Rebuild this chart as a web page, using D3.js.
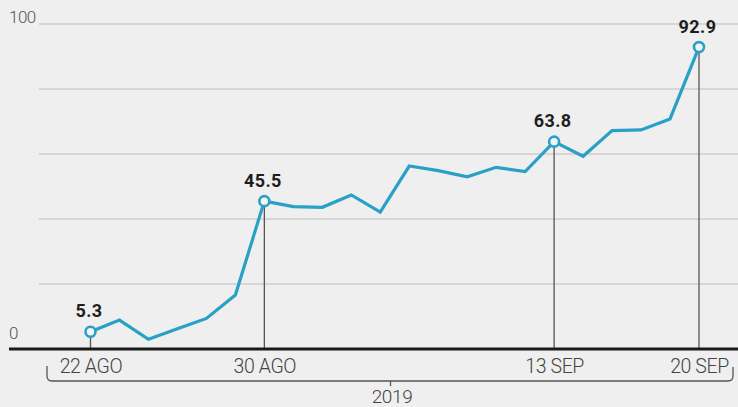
<!DOCTYPE html>
<html>
<head>
<meta charset="utf-8">
<script src="https://cdn.jsdelivr.net/npm/d3@7"></script>
<style>
  body { margin: 0; background: #efefef; }
  svg { display: block; }
</style>
</head>
<body>
<div class="graphContainer"></div>
<script>
// data
var dates = ["22 AGO", "23 AGO", "26 AGO", "27 AGO", "28 AGO", "29 AGO", "30 AGO",
  "2 SEP", "3 SEP", "4 SEP", "5 SEP", "6 SEP", "9 SEP", "10 SEP", "11 SEP", "12 SEP", "13 SEP",
  "16 SEP", "17 SEP", "18 SEP", "19 SEP", "20 SEP"];
var values = [5.3, 8.9, 3.0, 6.2, 9.4, 16.6, 45.5, 43.8, 43.6, 47.4, 42.1, 56.3, 54.9, 53.0,
  55.9, 54.6, 63.8, 59.3, 67.2, 67.4, 70.8, 92.9];
var labeledDates = ["22 AGO", "30 AGO", "13 SEP", "20 SEP"];
var gridValues = [20, 40, 60, 80, 100];
var yLabels = [0, 100];
var yearLabel = "2019";

var width = 738;
var height = 407;

var svg = d3
  .select(".graphContainer")
  .append("svg")
  .attr("width", width)
  .attr("height", height);

var xScale = d3.scalePoint().domain(dates).range([90.5, 699]);
var yScale = d3.scaleLinear().domain([0, 100]).range([349, 24]);

// grid
svg.selectAll(".grid")
  .data(gridValues)
  .enter()
  .append("line")
  .attr("class", "grid")
  .attr("x1", 39)
  .attr("x2", width)
  .attr("y1", (d) => yScale(d))
  .attr("y2", (d) => yScale(d))
  .style("stroke", "#bdbdbd")
  .style("stroke-width", 1.2);

// y labels
svg.selectAll(".ylab")
  .data(yLabels)
  .enter()
  .append("text")
  .attr("class", "ylab")
  .attr("x", 9)
  .attr("y", (d) => (d == 0 ? yScale(d) - 10 : yScale(d) - 1.5))
  .text((d) => d)
  .style("font-family", "Roboto")
  .style("font-weight", 300)
  .style("font-size", "17px")
  .style("letter-spacing", "-0.5px")
  .style("fill", "#555");

// drop lines for labelled points
var labeled = dates
  .map((d, i) => ({ date: d, value: values[i] }))
  .filter((d) => labeledDates.indexOf(d.date) >= 0);

svg.selectAll(".drop")
  .data(labeled)
  .enter()
  .append("line")
  .attr("class", "drop")
  .attr("x1", (d) => xScale(d.date))
  .attr("x2", (d) => xScale(d.date))
  .attr("y1", (d) => yScale(d.value))
  .attr("y2", yScale(0))
  .style("stroke", "#555")
  .style("stroke-width", 1.3);

// baseline
svg.append("line")
  .attr("x1", 9)
  .attr("x2", width)
  .attr("y1", yScale(0))
  .attr("y2", yScale(0))
  .style("stroke", "#1a1a1a")
  .style("stroke-width", 3);

// x axis labels
var xAxis = d3.axisBottom(xScale).tickValues(labeledDates).tickSize(0).tickPadding(0);
var xAxisGroup = svg.append("g")
  .attr("transform", "translate(0," + (yScale(0) + 24) + ")")
  .call(xAxis);
xAxisGroup.select(".domain").remove();
xAxisGroup.selectAll("text")
  .attr("dy", 0)
  .style("font-family", "Roboto")
  .style("font-weight", 300)
  .style("font-size", "19.5px")
  .style("letter-spacing", "-0.4px")
  .style("fill", "#444");

// year bracket
var bracketY = 381;
svg.append("path")
  .attr("d", "M47,366 L47,376 Q47,381 52,381 L728,381 Q733,381 733,376 L733,367")
  .style("fill", "none")
  .style("stroke", "#555")
  .style("stroke-width", 1.3);
svg.append("line")
  .attr("x1", 390.5)
  .attr("x2", 390.5)
  .attr("y1", bracketY)
  .attr("y2", bracketY + 5)
  .style("stroke", "#555")
  .style("stroke-width", 1.3);
svg.append("text")
  .attr("x", 392)
  .attr("y", 403)
  .attr("text-anchor", "middle")
  .text(yearLabel)
  .style("font-family", "Roboto")
  .style("font-weight", 300)
  .style("font-size", "19px")
  .style("letter-spacing", "-0.4px")
  .style("fill", "#444");

// line
var line = d3.line()
  .x((d, i) => xScale(dates[i]))
  .y((d) => yScale(d));

svg.append("path")
  .datum(values)
  .attr("d", line)
  .style("fill", "none")
  .style("stroke", "#2aa0c6")
  .style("stroke-width", 3.2)
  .style("stroke-linejoin", "miter");

// markers
svg.selectAll(".dot")
  .data(labeled)
  .enter()
  .append("circle")
  .attr("class", "dot")
  .attr("cx", (d) => xScale(d.date))
  .attr("cy", (d) => yScale(d.value))
  .attr("r", 5)
  .style("fill", "#f4f4f4")
  .style("stroke", "#2aa0c6")
  .style("stroke-width", 2.6);

// value labels
svg.selectAll(".val")
  .data(labeled)
  .enter()
  .append("text")
  .attr("class", "val")
  .attr("x", (d) => xScale(d.date) - 1.5)
  .attr("y", (d) => yScale(d.value) - 14.5)
  .attr("text-anchor", "middle")
  .text((d) => d.value.toFixed(1))
  .style("font-family", "Roboto")
  .style("font-weight", 700)
  .style("font-size", "18px")
  .style("letter-spacing", "0.4px")
  .style("fill", "#1e1e1e");
</script>
</body>
</html>
